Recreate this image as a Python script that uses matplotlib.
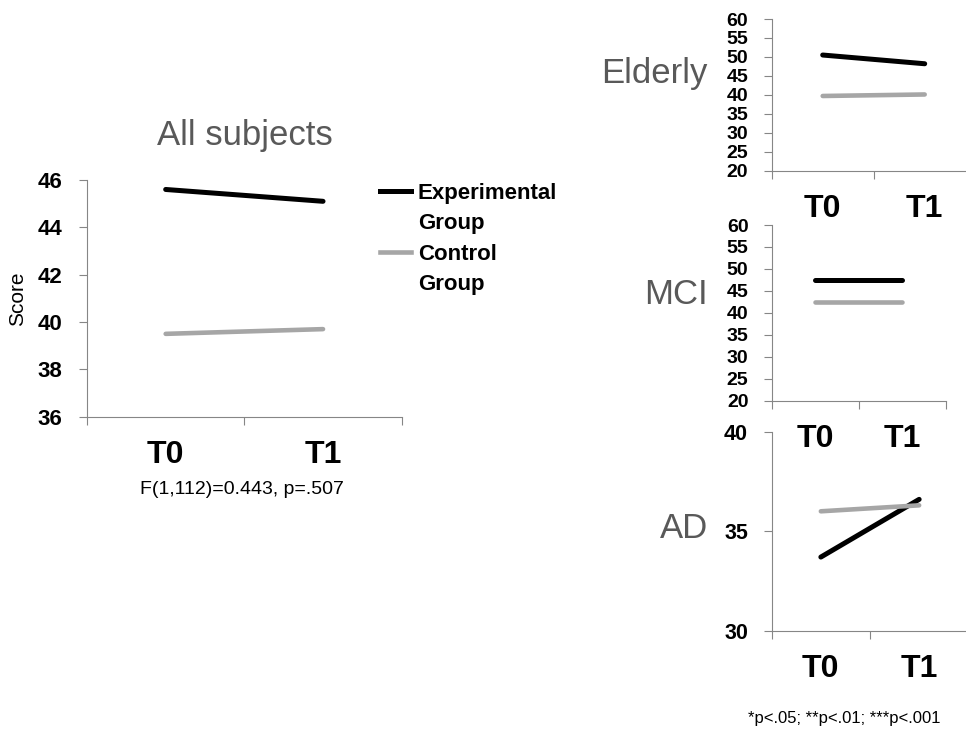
import matplotlib
matplotlib.use("Agg")
import matplotlib.pyplot as plt
from matplotlib.lines import Line2D

plt.rcParams['font.family'] = ['Liberation Sans', 'DejaVu Sans']

# time points
times = ['T0', 'T1']
xpos = [0.5, 1.5]

# all subjects
all_exp = [45.6, 45.1]
all_ctl = [39.5, 39.7]
# elderly
eld_exp = [50.5, 48.2]
eld_ctl = [39.7, 40.1]
# MCI
mci_exp = [47.4, 47.4]
mci_ctl = [42.5, 42.5]
# AD
ad_exp = [33.7, 36.6]
ad_ctl = [36.0, 36.3]

EXP_COL = 'black'
CTL_COL = '#a6a6a6'
SPINE_COL = '#868686'
TITLE_COL = '#595959'

W, H = 966, 735
fig = plt.figure(figsize=(W / 100, H / 100), dpi=100)


def px_axes(left, top, right, bottom):
    # pixel box -> figure fraction axes
    return fig.add_axes([left / W, 1 - bottom / H, (right - left) / W, (bottom - top) / H])


def style(ax, exp, ctl, ylim, yticks, tick_size=16, pad=11):
    ax.plot(xpos, exp, color=EXP_COL, lw=3.6, solid_capstyle='round')
    ax.plot(xpos, ctl, color=CTL_COL, lw=3.3, solid_capstyle='round')
    ax.set_xlim(0, 2)
    ax.set_ylim(*ylim)
    ax.set_yticks(yticks)
    ax.set_yticklabels([str(v) for v in yticks], fontsize=tick_size, fontweight='bold')
    ax.set_xticks([0, 1, 2])
    ax.set_xticklabels([])
    ax.set_xticks(xpos, minor=True)
    ax.set_xticklabels(times, minor=True, fontsize=23, fontweight='bold')
    ax.tick_params(axis='x', which='minor', length=0, pad=17)
    ax.tick_params(axis='x', which='major', length=6, color=SPINE_COL, width=0.8)
    ax.tick_params(axis='y', length=6, color=SPINE_COL, width=0.8, pad=pad)
    for s in ['top', 'right']:
        ax.spines[s].set_visible(False)
    for s in ['left', 'bottom']:
        ax.spines[s].set_color(SPINE_COL)
        ax.spines[s].set_linewidth(0.8)
    ax.patch.set_alpha(0)


# main panel
ax = px_axes(87, 180, 401.7, 416.7)
style(ax, all_exp, all_ctl, (36, 46), [36, 38, 40, 42, 44, 46], pad=12)
ax.set_ylabel('Score', fontsize=15)
ax.yaxis.set_label_coords(-0.19, 0.5)

handles = [Line2D([], [], color=EXP_COL, lw=3.6),
           Line2D([], [], color='none'),
           Line2D([], [], color=CTL_COL, lw=3.3),
           Line2D([], [], color='none')]
labels = ['Experimental', 'Group', 'Control', 'Group']
leg = fig.legend(handles, labels, loc='upper left', bbox_to_anchor=(380 / W, 1 - 183 / H),
                 frameon=False, handlelength=1.4, handletextpad=0.3, borderpad=0,
                 borderaxespad=0, labelspacing=0.42,
                 prop={'size': 16, 'weight': 'bold'})

fig.text(245 / W, 1 - 135 / H, 'All subjects', fontsize=25, color=TITLE_COL,
         ha='center', va='center')
fig.text(242 / W, 1 - 490 / H, 'F(1,112)=0.443, p=.507', fontsize=14,
         ha='center', va='center')

# elderly
ax = px_axes(771.7, 19, 975.7, 170.7)
style(ax, eld_exp, eld_ctl, (20, 60), list(range(20, 61, 5)), tick_size=14)
fig.text(707 / W, 1 - 73 / H, 'Elderly', fontsize=25, color=TITLE_COL,
         ha='right', va='center')

# MCI
ax = px_axes(772, 225, 945.7, 400.7)
style(ax, mci_exp, mci_ctl, (20, 60), list(range(20, 61, 5)), tick_size=14)
fig.text(708 / W, 1 - 295 / H, 'MCI', fontsize=25, color=TITLE_COL,
         ha='right', va='center')

# AD
ax = px_axes(771.7, 431.7, 968.3, 630.7)
style(ax, ad_exp, ad_ctl, (30, 40), [30, 35, 40], tick_size=15.5)
fig.text(708 / W, 1 - 528 / H, 'AD', fontsize=25, color=TITLE_COL,
         ha='right', va='center')

fig.text(844 / W, 1 - 719 / H, '*p<.05; **p<.01; ***p<.001', fontsize=12,
         ha='center', va='center')

fig.savefig('out.png', dpi=100)
